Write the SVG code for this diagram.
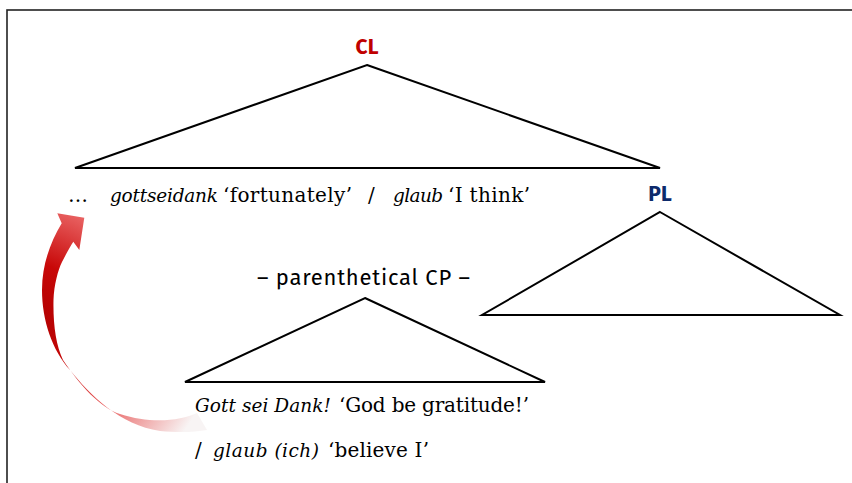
<svg xmlns="http://www.w3.org/2000/svg" width="852" height="483" viewBox="0 0 852 483">
<defs>
<style>
.tri{fill:none;stroke:#000;stroke-width:2;stroke-linejoin:miter}
.lab{font-family:"Fira Sans","Noto Sans","Open Sans",sans-serif;font-weight:bold;font-size:21px;text-anchor:middle}
.sans{font-family:"Fira Sans","Noto Sans","Open Sans",sans-serif;font-size:22px}
.ser{font-family:"DejaVu Serif","Liberation Serif",serif;font-size:20px;fill:#000}
.it{font-style:italic;font-size:18.5px}
</style>
<radialGradient id="arrowGrad" gradientUnits="userSpaceOnUse" cx="30" cy="320" r="190">
<stop offset="0" stop-color="#b00000"/>
<stop offset="0.3" stop-color="#c80808"/>
<stop offset="0.6" stop-color="#e86060"/>
<stop offset="1" stop-color="#f8f4f4"/>
</radialGradient>
</defs>
<rect x="7" y="10" width="860" height="490" fill="#fff" stroke="#222" stroke-width="1.6"/>
<g id="CL">
<text class="lab" x="367" y="54" fill="#c00000">CL</text>
<polygon class="tri" points="367,65 660,168 75,168"/>
</g>
<g id="PL">
<text class="lab" x="660" y="201" fill="#0d2a6b">PL</text>
<polygon class="tri" points="660,212 840,315 482,315"/>
</g>
<g id="CP">
<text class="sans" x="257" y="285" textLength="213" fill="#000">– parenthetical CP –</text>
<polygon class="tri" points="365,298 545,382 185,382"/>
</g>
<g id="line1">
<text class="ser" x="68" y="202" textLength="17">…</text>
<text class="ser it" x="110" y="202" textLength="108">gottseidank</text>
<text class="ser" x="223" y="202" textLength="129">‘fortunately’</text>
<text class="ser" x="368" y="202" textLength="10">/</text>
<text class="ser it" x="393" y="202" textLength="50">glaub</text>
<text class="ser" x="448" y="202" textLength="82">‘I think’</text>
</g>
<g id="line2">
<text class="ser it" x="195" y="412" textLength="136">Gott sei Dank!</text>
<text class="ser" x="339" y="412" textLength="190">‘God be gratitude!’</text>
</g>
<g id="line3">
<text class="ser" x="195" y="457" textLength="8">/</text>
<text class="ser it" x="213" y="457" textLength="106">glaub (ich)</text>
<text class="ser" x="328" y="457" textLength="101">‘believe I’</text>
</g>
<g id="connectors">
<path fill="url(#arrowGrad)" d="M61.7,223.3 C50,243 42,265 42,290 C42,320 52,350 70,370 C90,395 120,425 160,431 C180,433 195,432 207,430 L197,413 C180,421 150,424 120,414 C100,408 80,385 63,360 C56,345 53,325 53.5,300 C54,285 58,270 62,262 C66,254 70,247 73.3,241.7 L79.3,250 L84.3,217.7 L57.3,213.3 Z"/>
</g>
</svg>
